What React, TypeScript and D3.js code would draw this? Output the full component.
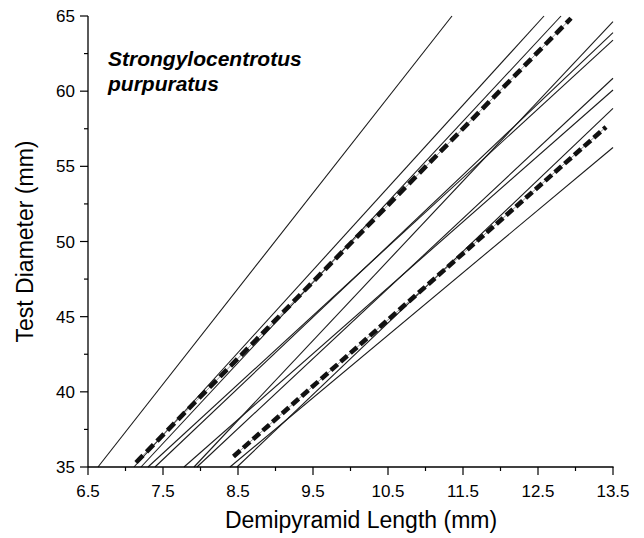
import React from "react";
import * as d3 from "d3";

// Regression lines: start and end points (data units)
const lineX0 = [6.633, 7.113, 7.207, 7.3, 7.393, 7.78, 7.913, 7.953, 8.487, 8.393];
const lineY0 = [35, 35, 35, 35, 35, 35, 35, 35, 35, 35];
const lineX1 = [11.353, 12.58, 12.807, 13.5, 13.5, 13.5, 13.5, 13.5, 13.5, 13.5];
const lineY1 = [65, 65, 65, 63.4, 63.89, 60.08, 64.62, 60.86, 58.86, 56.25];

// Point-marked (dotted) series: start and end
const dotX0 = [7.14, 8.44];
const dotY0 = [35.3, 35.7];
const dotX1 = [12.94, 13.407];
const dotY1 = [64.85, 57.62];

const xTicks = [6.5, 7.5, 8.5, 9.5, 10.5, 11.5, 12.5, 13.5];
const xMinor = [7, 8, 9, 10, 11, 12, 13];
const yTicks = [35, 40, 45, 50, 55, 60, 65];
const yMinor = [37.5, 42.5, 47.5, 52.5, 57.5, 62.5];

const xTitle = "Demipyramid Length (mm)";
const yTitle = "Test Diameter (mm)";
const species = ["Strongylocentrotus", "purpuratus"];

export default function App() {
  const L = 88, R = 613, T = 16, B = 467;
  const x = d3.scaleLinear().domain([6.5, 13.5]).range([L, R]);
  const y = d3.scaleLinear().domain([35, 65]).range([B, T]);
  const line = d3.line<[number, number]>().x((d) => x(d[0])).y((d) => y(d[1]));
  const font = "'Liberation Sans', Arial, Helvetica, sans-serif";

  return (
    <svg width={644} height={538} style={{ position: "absolute", left: 0, top: 0, background: "#fff" }} fontFamily={font}>
      <rect x={0} y={0} width={644} height={538} fill="#fff" />
      {lineX0.map((_, i) => (
        <path key={"l" + i} d={line([[lineX0[i], lineY0[i]], [lineX1[i], lineY1[i]]]) || ""} fill="none" stroke="#1a1a1a" strokeWidth={1.1} />
      ))}
      {dotX0.map((_, i) => (
        <g key={"d" + i}>
          <path d={line([[dotX0[i], dotY0[i]], [dotX1[i], dotY1[i]]]) || ""} fill="none" stroke="#777" strokeWidth={0.8} />
          <path d={line([[dotX0[i], dotY0[i]], [dotX1[i], dotY1[i]]]) || ""} fill="none" stroke="#111" strokeWidth={4.6} strokeDasharray={i === 0 ? "10 5" : "9 4"} />
        </g>
      ))}
      {/* axes */}
      <line x1={L} x2={L} y1={T} y2={B} stroke="#000" strokeWidth={1.3} />
      <line x1={L} x2={R + 0.6} y1={B} y2={B} stroke="#000" strokeWidth={1.3} />
      {xTicks.map((t) => (
        <g key={"xt" + t}>
          <line x1={x(t)} x2={x(t)} y1={B} y2={B + 8} stroke="#000" strokeWidth={1.2} />
          <text x={x(t)} y={497} fontSize={17} textAnchor="middle" fill="#000">{t.toFixed(1)}</text>
        </g>
      ))}
      {xMinor.map((t) => (
        <line key={"xm" + t} x1={x(t)} x2={x(t)} y1={B} y2={B + 4} stroke="#000" strokeWidth={1.2} />
      ))}
      {yTicks.map((t) => (
        <g key={"yt" + t}>
          <line x1={L - 8} x2={L} y1={y(t)} y2={y(t)} stroke="#000" strokeWidth={1.2} />
          <text x={75} y={y(t)} dy="0.36em" fontSize={17} textAnchor="end" fill="#000">{t}</text>
        </g>
      ))}
      {yMinor.map((t) => (
        <line key={"ym" + t} x1={L - 4} x2={L} y1={y(t)} y2={y(t)} stroke="#000" strokeWidth={1.2} />
      ))}
      <text x={361} y={528} fontSize={23} textAnchor="middle" fill="#000">{xTitle}</text>
      <text transform={`translate(33,${(T + B) / 2}) rotate(-90)`} fontSize={23} textAnchor="middle" fill="#000">{yTitle}</text>
      <text x={108} y={66} fontSize={21} fontWeight="bold" fontStyle="italic" fill="#000">{species[0]}</text>
      <text x={108} y={91} fontSize={21} fontWeight="bold" fontStyle="italic" fill="#000">{species[1]}</text>
    </svg>
  );
}
